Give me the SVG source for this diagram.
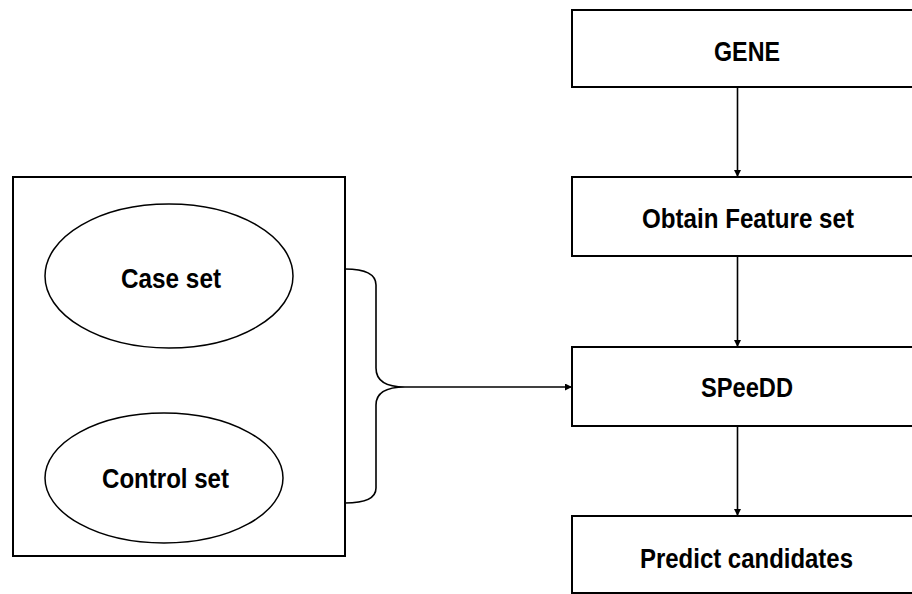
<svg xmlns="http://www.w3.org/2000/svg" width="912" height="594" viewBox="0 0 912 594">
<defs>
<style>
.box{fill:#fff;stroke:#000;stroke-width:2}
.ell{fill:#fff;stroke:#000;stroke-width:1.5}
.lbl{font-family:"Liberation Sans",Arial,sans-serif;font-weight:bold;font-size:27px;fill:#000;text-anchor:middle}
.con{fill:none;stroke:#000;stroke-width:1.6}
</style>
<marker id="ah" viewBox="0 0 10 10" refX="10" refY="5" markerWidth="7" markerHeight="7" markerUnits="userSpaceOnUse" orient="auto">
<path d="M0,0 L10,5 L0,10 z" fill="#000"/>
</marker>
</defs>
<rect width="912" height="594" fill="#fff"/>
<g id="group-box">
<rect class="box" x="13" y="177" width="332" height="379"/>
</g>
<g id="case-set">
<ellipse class="ell" cx="169" cy="276" rx="124" ry="72"/>
<text class="lbl" x="171" y="288" textLength="100" lengthAdjust="spacingAndGlyphs">Case set</text>
</g>
<g id="control-set">
<ellipse class="ell" cx="164" cy="478" rx="119" ry="65"/>
<text class="lbl" x="165.5" y="488" textLength="127" lengthAdjust="spacingAndGlyphs">Control set</text>
</g>
<g id="gene">
<rect class="box" x="572" y="10" width="350" height="77"/>
<text class="lbl" x="747" y="61" textLength="66" lengthAdjust="spacingAndGlyphs">GENE</text>
</g>
<g id="obtain">
<rect class="box" x="572" y="177" width="350" height="79"/>
<text class="lbl" x="748" y="228" textLength="212" lengthAdjust="spacingAndGlyphs">Obtain Feature set</text>
</g>
<g id="speedd">
<rect class="box" x="572" y="347" width="350" height="79"/>
<text class="lbl" x="747" y="397" textLength="92" lengthAdjust="spacingAndGlyphs">SPeeDD</text>
</g>
<g id="predict">
<rect class="box" x="572" y="516" width="350" height="77"/>
<text class="lbl" x="746.5" y="568" textLength="213" lengthAdjust="spacingAndGlyphs">Predict candidates</text>
</g>
<g id="connectors">
<line class="con" x1="737.5" y1="87" x2="737.5" y2="177" marker-end="url(#ah)"/>
<line class="con" x1="737.5" y1="256" x2="737.5" y2="347" marker-end="url(#ah)"/>
<line class="con" x1="737.5" y1="426" x2="737.5" y2="516" marker-end="url(#ah)"/>
<path class="con" d="M345,269 Q376,269 376,285 L376,368 Q376,387 405,387 Q376,387 376,405 L376,488 Q376,503 345,503"/>
<line class="con" x1="405" y1="387" x2="572" y2="387" marker-end="url(#ah)"/>
</g>
</svg>
